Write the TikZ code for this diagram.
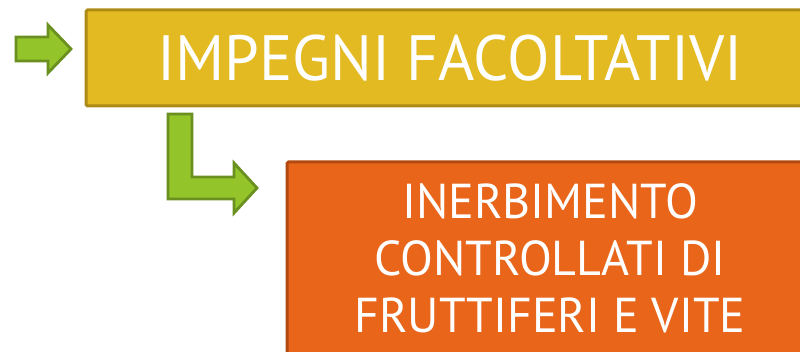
\documentclass[tikz,border=0pt]{standalone}
\usepackage{fontspec}
\setmainfont{PT Sans}
\definecolor{ybox}{HTML}{E4BA22}
\definecolor{yedge}{HTML}{AD8B16}
\definecolor{obox}{HTML}{E8651A}
\definecolor{oedge}{HTML}{B24A10}
\definecolor{garrow}{HTML}{93C42A}
\definecolor{gedge}{HTML}{6A9020}
\tikzset{
  arrowshape/.style={fill=garrow, draw=gedge, line width=2.8pt, line join=miter},
  boxtext/.style={text=white, align=center, inner sep=0pt}
}
\begin{document}
\begin{tikzpicture}[x=1pt,y=-1pt]
\useasboundingbox (0,0) rectangle (800,352);
\clip (0,0) rectangle (800,352);
\fill[white] (0,0) rectangle (800,352);
% yellow box
\draw[fill=ybox, draw=yedge, line width=3pt, rounded corners=1.5pt] (86,10) rectangle (820,106);
\node[boxtext, font=\fontsize{64}{70}\selectfont, xscale=0.97, transform shape] (t1) at (450,58) {IMPEGNI FACOLTATIVI};
% orange box
\draw[fill=obox, draw=oedge, line width=3pt, rounded corners=1.5pt] (287,162) rectangle (820,370);
\node[boxtext, font=\fontsize{49}{57}\selectfont, xscale=0.98, transform shape] (t2) at (550,258) {INERBIMENTO\\CONTROLLATI DI\\FRUTTIFERI E VITE};
% left arrow
\draw[arrowshape] (16,37) -- (48,37) -- (48,25) -- (71,49) -- (48,73) -- (48,61) -- (16,61) -- cycle;
% bent arrow
\draw[arrowshape] (168,114) -- (192,114) -- (192,177) -- (234,177) -- (234,163) -- (257,188) -- (234,213) -- (234,199) -- (168,199) -- cycle;
\end{tikzpicture}
\end{document}
